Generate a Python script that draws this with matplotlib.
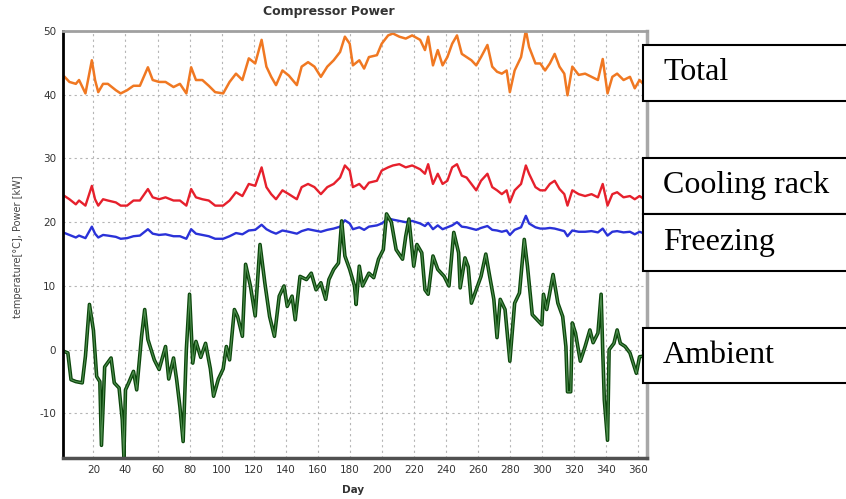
import matplotlib.pyplot as plt
from matplotlib.patches import Rectangle

# power series at these days
days_pw = [2, 5, 9, 11, 15, 19, 21, 23, 26, 29,
           34, 37, 41, 45, 49, 54, 57, 61, 65, 70,
           74, 78, 81, 84, 88, 92, 96, 101, 105, 109,
           113, 117, 121, 125, 128, 131, 134, 138, 142, 147,
           150, 154, 158, 162, 166, 170, 174, 177, 180, 182,
           186, 189, 192, 197, 200, 204, 207, 211, 215, 219,
           224, 227, 229, 232, 235, 238, 241, 244, 247, 250,
           253, 256, 259, 262, 266, 269, 272, 275, 278, 280,
           283, 287, 290, 292, 296, 299, 302, 305, 308, 311,
           314, 316, 319, 323, 327, 331, 335, 338, 341, 344,
           347, 351, 355, 358, 361, 364]

total = [42.8, 42.0, 41.7, 42.3, 40.2, 45.4, 42.3, 40.4, 41.7, 41.7,
         40.7, 40.2, 40.7, 41.4, 41.4, 44.3, 42.3, 42.0, 42.0, 41.2,
         41.7, 40.2, 44.3, 42.3, 42.3, 41.4, 40.4, 40.2, 42.0, 43.3,
         42.3, 45.7, 44.9, 48.6, 44.4, 42.8, 41.5, 43.8, 43.0, 41.5,
         44.4, 45.1, 44.4, 42.8, 44.4, 45.4, 46.7, 49.1, 48.0, 44.6,
         45.4, 44.1, 45.9, 46.2, 48.0, 49.3, 49.6, 49.1, 48.8, 49.3,
         48.6, 47.0, 49.1, 44.6, 47.0, 44.6, 45.9, 48.0, 49.3, 46.4,
         45.9, 45.4, 44.6, 45.9, 47.8, 44.4, 43.6, 43.3, 43.8, 40.4,
         43.8, 45.9, 50.1, 47.5, 44.9, 44.9, 43.8, 44.9, 46.4, 44.4,
         43.3, 39.9, 44.4, 43.1, 43.3, 42.8, 42.3, 45.6, 40.2, 42.8,
         43.3, 42.3, 42.8, 41.0, 42.3, 41.5]

cooling = [24.1, 23.6, 22.8, 23.4, 22.6, 25.7, 23.6, 22.6, 23.6, 23.4,
           23.1, 22.6, 22.6, 23.4, 23.4, 25.2, 23.9, 23.6, 23.9, 23.4,
           23.4, 22.6, 25.2, 23.9, 23.6, 23.4, 22.6, 22.6, 23.4, 24.7,
           24.1, 26.0, 25.7, 28.6, 25.5, 24.4, 23.6, 25.0, 24.4, 23.6,
           25.5, 26.0, 25.5, 24.4, 25.5, 26.0, 27.0, 28.9, 28.1, 25.5,
           26.0, 25.2, 26.2, 26.5, 28.1, 28.6, 28.9, 29.1, 28.6, 28.9,
           28.3, 27.6, 29.1, 26.0, 27.6, 26.0, 26.5, 28.6, 29.1, 27.3,
           27.0, 26.0, 25.0, 26.5, 27.6, 25.5, 25.0, 24.4, 25.0, 23.1,
           25.0, 26.0, 28.9, 27.6, 25.5, 25.0, 25.0, 26.0, 26.5, 25.2,
           24.4, 22.6, 25.0, 24.4, 24.1, 24.4, 23.9, 26.0, 22.6, 24.4,
           24.7, 23.9, 24.1, 23.6, 24.1, 23.6]

freezing = [18.3, 18.0, 17.6, 17.9, 17.5, 19.3, 18.2, 17.6, 18.0, 17.9,
            17.7, 17.4, 17.5, 17.8, 17.9, 18.9, 18.2, 18.0, 18.1, 17.8,
            17.8, 17.4, 18.9, 18.2, 18.0, 17.8, 17.4, 17.4, 17.8, 18.3,
            18.1, 18.7, 18.8, 19.6, 18.9, 18.5, 18.2, 18.7, 18.5, 18.2,
            18.6, 18.9, 18.7, 18.5, 18.8, 19.0, 19.3, 20.3, 19.8, 18.9,
            19.2, 18.8, 19.3, 19.5, 19.8, 20.6, 20.4, 20.2, 20.0, 20.2,
            19.8, 19.4, 19.9, 18.9, 19.5, 18.9, 19.2, 19.5, 20.0, 19.3,
            19.2, 19.0, 18.8, 19.1, 19.4, 18.8, 18.7, 18.5, 18.7, 18.0,
            18.8, 19.2, 21.0, 19.8, 19.2, 19.0, 19.0, 19.1, 19.0, 18.8,
            18.6, 17.8, 18.7, 18.5, 18.5, 18.6, 18.4, 19.0, 17.9, 18.5,
            18.6, 18.4, 18.5, 18.1, 18.5, 18.2]

# ambient temperature, own sample days
amb_days = [2, 4, 6, 9, 13, 15, 17.5, 20, 22, 24,
            25, 27, 31, 33, 36, 38, 39, 40, 42, 45,
            47, 50, 52, 54, 58, 61, 65, 67, 70, 72,
            74, 76, 78, 80, 82, 84, 87, 90, 93, 95,
            98, 101, 103, 105, 108, 110, 113, 115, 118, 121,
            124, 127, 130, 133, 136, 139, 141, 144, 146, 149,
            153, 156, 159, 162, 165, 167, 170, 173, 175, 177,
            180, 183, 184, 186, 188, 192, 195, 198, 201, 203,
            206, 209, 213, 215, 217, 220, 222, 225, 227, 229,
            232, 235, 239, 242, 245, 248, 249, 252, 254, 256,
            259, 262, 265, 267, 270, 272, 274, 277, 280, 283,
            286, 289, 291, 294, 297, 300, 301, 303, 307, 310,
            313, 315, 316, 318, 319, 321, 324, 327, 330, 332,
            335, 337, 338, 339, 341, 342, 345, 347, 349, 352,
            355, 359, 361, 364]

ambient = [-0.3, -0.5, -4.7, -5.0, -5.2, -1.0, 7.1, 3.0, -4.2, -5.0,
           -15.0, -2.7, -1.3, -5.2, -6.0, -11.0, -16.8, -6.3, -5.2, -3.4,
           -6.3, 2.0, 6.3, 1.6, -1.6, -3.1, 0.5, -4.6, -1.3, -4.8,
           -9.0, -14.4, 0.0, 8.7, -2.1, 1.3, -1.2, 1.0, -3.0, -7.3,
           -4.6, -3.0, 0.5, -1.6, 6.3, 5.2, 2.1, 13.4, 10.0, 5.3,
           16.5, 10.5, 5.2, 2.1, 8.4, 10.0, 6.8, 8.4, 4.7, 11.5,
           11.0, 12.0, 9.4, 10.5, 7.9, 11.0, 12.6, 13.6, 20.2, 14.7,
           12.6, 10.0, 7.1, 13.1, 10.0, 12.0, 11.3, 14.2, 15.7, 21.3,
           20.0, 15.7, 14.2, 17.8, 20.5, 13.1, 16.5, 15.2, 9.4, 8.7,
           14.7, 12.6, 11.5, 10.0, 18.4, 15.2, 9.7, 14.4, 13.0, 7.3,
           9.4, 11.5, 15.0, 12.1, 7.9, 1.9, 7.9, 6.3, -1.8, 7.3,
           8.9, 17.3, 13.1, 5.5, 4.7, 3.9, 8.7, 6.3, 11.8, 7.3,
           5.2, 0.5, -6.6, -6.6, 4.2, 2.6, -1.8, 0.5, 3.1, 1.1,
           2.6, 8.7, -0.2, -7.9, -14.2, 0.0, 1.0, 3.1, 1.0, 0.5,
           -0.5, -3.7, -1.1, -1.0]

x_ticks = list(range(20, 361, 20))
y_ticks = [-10, 0, 10, 20, 30, 40, 50]
labels = ["Total", "Cooling rack", "Freezing", "Ambient"]

plt.rcParams["axes.unicode_minus"] = False

fig = plt.figure(figsize=(8.46, 4.99), dpi=100)
ax = fig.add_axes([0.0745, 0.082, 0.690, 0.856])

ax.plot(days_pw, total, color="#f07822", lw=1.8)
ax.plot(days_pw, cooling, color="#e6202c", lw=1.7)
ax.plot(days_pw, freezing, color="#2a32d8", lw=1.7)
ax.plot(amb_days, ambient, color="#0b460b", lw=2.6)
ax.plot(amb_days, ambient, color="#4f8f4f", lw=0.8)

ax.set_xlim(1, 365.5)
ax.set_ylim(-17, 50)
ax.set_xticks(x_ticks)
ax.set_yticks(y_ticks)
ax.tick_params(length=0, labelsize=7.5, labelcolor="#333333", pad=5)
ax.grid(True, color="#b5b5b5", lw=0.8, ls=(0, (2, 3)))

ax.spines["left"].set_color("black")
ax.spines["left"].set_linewidth(2)
ax.spines["bottom"].set_color("#505050")
ax.spines["bottom"].set_linewidth(2.5)
ax.spines["top"].set_color("#a0a0a0")
ax.spines["top"].set_linewidth(2)
ax.spines["right"].set_color("#a8a8a8")
ax.spines["right"].set_linewidth(2.5)

fig.text(329 / 846, 0.976, "Compressor Power", ha="center", va="center",
         fontsize=9, fontweight="bold", color="#333333")
fig.text(18 / 846, 0.505, "temperature[°C], Power [kW]", rotation=90,
         ha="center", va="center", fontsize=7, color="#444444")
fig.text(353 / 846, 0.018, "Day", ha="center", va="center",
         fontsize=7.5, fontweight="bold", color="#333333")

# label boxes on the right, in figure pixels (top, bottom)
box_rows = [(45, 101), (158, 214), (214, 271), (328, 383)]
for (top, bot), lab in zip(box_rows, labels):
    y0 = 1 - bot / 499
    h = (bot - top) / 499
    fig.add_artist(Rectangle((643 / 846, y0), 0.3, h, transform=fig.transFigure,
                             facecolor="white", edgecolor="black", lw=1.5, zorder=5))
    fig.text(663 / 846, y0 + h / 2, lab, ha="left", va="center",
             fontsize=23, family="Liberation Serif", zorder=6)

fig.savefig("out.png", dpi=100)
